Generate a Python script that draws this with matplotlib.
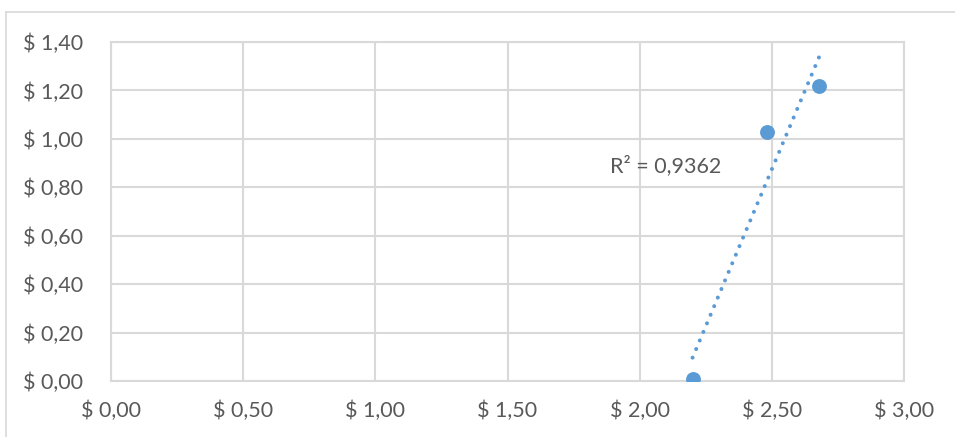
import matplotlib
matplotlib.use("Agg")
import matplotlib.pyplot as plt
from matplotlib.lines import Line2D
import numpy as np

x_vals = [2.20, 2.48, 2.68]
y_vals = [0.01, 1.03, 1.22]
x_ticks = [0.0, 0.5, 1.0, 1.5, 2.0, 2.5, 3.0]
y_ticks = [0.0, 0.2, 0.4, 0.6, 0.8, 1.0, 1.2, 1.4]
r2_label = "R² = 0,9362"

plt.rcParams['font.family'] = ['Lato', 'DejaVu Sans']
W, H = 955, 437
fig = plt.figure(figsize=(W/100, H/100), dpi=100)
ax = fig.add_axes([111/W, 1-381/H, (904-111)/W, (381-42)/H])

grid_c = '#d9d9d9'
txt_c = '#595959'
blue = '#5b9bd5'

# trendline
coef = np.polyfit(x_vals, y_vals, 1)
xt = np.array([min(x_vals), max(x_vals)])
ax.plot(xt, np.polyval(coef, xt), linestyle=(0, (0.01, 2.3)), color=blue, lw=2.9,
        dash_capstyle='round', solid_capstyle='round', zorder=3)
ax.scatter(x_vals, y_vals, s=115, color=blue, zorder=4, linewidths=0)

ax.set_xlim(0, 3.0)
ax.set_ylim(0, 1.4)
ax.set_xticks(x_ticks)
ax.set_yticks(y_ticks)
fmt = lambda v: "$ " + f"{v:.2f}".replace('.', ',')
ax.set_xticklabels([fmt(v) for v in x_ticks])
ax.set_yticklabels([fmt(v) for v in y_ticks])
ax.tick_params(length=0, labelsize=15.5, labelcolor=txt_c)
ax.tick_params(axis='x', pad=14)
ax.tick_params(axis='y', pad=20)
ax.grid(True, color=grid_c, lw=1.5)
ax.set_axisbelow(True)
for s in ax.spines.values():
    s.set_color(grid_c)
    s.set_linewidth(1.5)

ax.text(2.31, 0.888, r2_label, fontsize=15.5, color=txt_c, ha='right', va='center')

fig.add_artist(Line2D([6/W, 1], [1-12/H, 1-12/H], color=grid_c, lw=1.2, transform=fig.transFigure))
fig.add_artist(Line2D([6/W, 6/W], [0, 1-12/H], color=grid_c, lw=1.2, transform=fig.transFigure))

fig.savefig("out.png", dpi=100)
